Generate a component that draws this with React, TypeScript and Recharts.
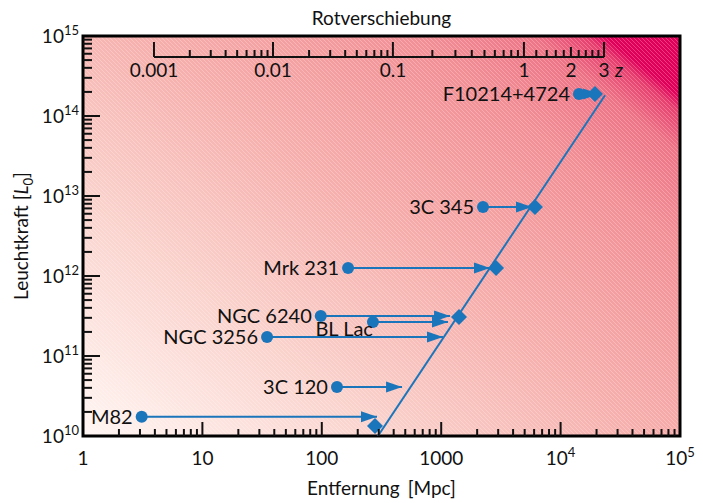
import React from 'react';
import {
	ComposedChart,
	Label,
	Line,
	ReferenceArea,
	ReferenceLine,
	XAxis,
	YAxis,
} from 'recharts';

const FONT = 'Lato, "Noto Sans", sans-serif';
const INK = '#111';
const BLUE = '#1b75bb';

// Objekte: beobachtete Entfernung -> Ende des Pfeils, Leuchtkraft
const names = ['M82', '3C 120', 'NGC 3256', 'BL Lac', 'NGC 6240', 'Mrk 231', '3C 345', 'F10214+4724'];
const distObs = [3.1, 134, 34.8, 268, 98, 166, 2240, 14260];
const distEnd = [290, 470, 1035, 1140, 1186, 2564, 5760, 21000];
const lum = [1.74e10, 4.1e10, 1.73e11, 2.66e11, 3.16e11, 1.26e12, 7.3e12, 1.88e14];

// Rauten auf der Grenzlinie
const diamondDist = [279, 1410, 2880, 6100, 19400];
const diamondLum = [1.33e10, 3.07e11, 1.26e12, 7.3e12, 1.88e14];

// Grenzlinie
const limitDist = [295, 23550];
const limitLum = [1e10, 1.82e14];

// Achsen
const xDecades = [1, 10, 100, 1000, 1e4, 1e5];
const xLabels = ['1', '10', '100', '1000', '10^4', '10^5'];
const yDecades = [1e10, 1e11, 1e12, 1e13, 1e14, 1e15];

// Rotverschiebung: Hauptstriche und ihre Lage in Mpc
const zMajor = [0.001, 0.01, 0.1, 1, 2, 3];
const zMajorLabels = ['0.001', '0.01', '0.1', '1', '2', '3'];
const zMajorDist = [3.93, 39, 394, 4930, 12200, 23100];
const zMinor = [
	0.002, 0.003, 0.004, 0.005, 0.006, 0.007, 0.008, 0.009,
	0.02, 0.03, 0.04, 0.05, 0.06, 0.07, 0.08, 0.09,
	0.2, 0.3, 0.4, 0.5, 0.6, 0.7, 0.8, 0.9,
	1.2, 1.4, 1.6, 1.8, 2.2, 2.4, 2.6, 2.8,
];

const withMinor = (decades: number[]) => {
	const out: number[] = [];
	decades.forEach((d, i) => {
		out.push(d);
		if (i < decades.length - 1) for (let k = 2; k <= 9; k++) out.push(d * k);
	});
	return out;
};

const zToDist = (z: number) => {
	let i = 0;
	while (i < zMajor.length - 2 && z > zMajor[i + 1]) i++;
	const t = (Math.log10(z) - Math.log10(zMajor[i])) / (Math.log10(zMajor[i + 1]) - Math.log10(zMajor[i]));
	const ld = Math.log10(zMajorDist[i]) + t * (Math.log10(zMajorDist[i + 1]) - Math.log10(zMajorDist[i]));
	return 10 ** ld;
};

const zTicks = [
	...zMajor.map((z, i) => ({ d: zMajorDist[i], label: zMajorLabels[i], major: z !== 2, z })),
	...zMinor.map((z) => ({ d: zToDist(z), label: '', major: false, z })),
];
const zTickDist = zTicks.map((t) => t.d);

const xTicks = withMinor(xDecades);
const yTicks = withMinor(yDecades);

const isDecade = (v: number) => {
	const lg = Math.log10(v);
	return Math.abs(lg - Math.round(lg)) < 1e-6;
};

const powerText = (label: string, x: number, y: number, anchor: 'middle' | 'end') => {
	const [base, exp] = label.split('^');
	return (
		<text x={x} y={y} textAnchor={anchor} fontFamily={FONT} fontSize={19} fill={INK}>
			{base}
			{exp && (
				<tspan dy={-8} fontSize={13}>
					{exp}
				</tspan>
			)}
		</text>
	);
};

const XTick = (props: any) => {
	const { x, y, payload } = props;
	const v = payload.value;
	const major = isDecade(v);
	const edge = v <= 1 || v >= 1e5;
	const idx = xDecades.findIndex((d) => Math.abs(d - v) / d < 1e-6);
	return (
		<g>
			{!edge && <line x1={x} x2={x} y1={y} y2={y - (major ? 14 : 7)} stroke={INK} strokeWidth={2} />}
			{major && idx >= 0 && powerText(xLabels[idx], x, y + 29, 'middle')}
		</g>
	);
};

const YTick = (props: any) => {
	const { x, y, payload } = props;
	const v = payload.value;
	const major = isDecade(v);
	const edge = v <= 1e10 || v >= 1e15;
	const exp = Math.round(Math.log10(v));
	return (
		<g>
			{!edge && <line x1={x} x2={x + (major ? 17 : 9)} y1={y} y2={y} stroke={INK} strokeWidth={2} />}
			{major && powerText(`10^${exp}`, x - 4, y + 7, 'end')}
		</g>
	);
};

const ZTick = (props: any) => {
	const { x, y, index } = props;
	const t = zTicks[index];
	if (!t) return <g />;
	const base = y + 21;
	const len = t.major ? 15 : t.z === 2 ? 10 : 7;
	return (
		<g>
			<line x1={x} x2={x} y1={base} y2={base - len} stroke={INK} strokeWidth={2} />
			{t.label && (
				<text x={x} y={base + 20} textAnchor="middle" fontFamily={FONT} fontSize={19} fill={INK}>
					{t.label}
				</text>
			)}
			{t.z === 3 && (
				<text x={x + 11} y={base + 20} fontFamily={FONT} fontSize={19} fontStyle="italic" fill={INK}>
					z
				</text>
			)}
		</g>
	);
};

const arrowDot = (name: string) => (p: any) => {
	const { cx, cy, index } = p;
	if (index === 0) {
		const below = name === 'BL Lac';
		return (
			<g key={`${name}-start`}>
				<circle cx={cx} cy={cy} r={6} fill={BLUE} />
				<text
					x={below ? cx : cx - 9}
					y={below ? cy + 14 : cy + 7}
					textAnchor="end"
					fontFamily={FONT}
					fontSize={20}
					fill={INK}
				>
					{name}
				</text>
			</g>
		);
	}
	return (
		<path
			key={`${name}-end`}
			d={`M${cx},${cy} L${cx - 16},${cy - 5.5} L${cx - 16},${cy + 5.5} Z`}
			fill={BLUE}
		/>
	);
};

const diamondDot = (p: any) => {
	const { cx, cy, index } = p;
	return (
		<path
			key={`dia-${index}`}
			d={`M${cx},${cy - 8} L${cx + 8},${cy} L${cx},${cy + 8} L${cx - 8},${cy} Z`}
			fill={BLUE}
		/>
	);
};

const arrows = names.map((name, i) => ({
	name,
	data: [
		{ d: distObs[i], L: lum[i] },
		{ d: distEnd[i], L: lum[i] },
	],
}));
const diamonds = diamondDist.map((d, i) => ({ d, L: diamondLum[i] }));
const limit = limitDist.map((d, i) => ({ d, L: limitLum[i] }));

// Höhe der z-Achse innerhalb des Diagramms
const zAxisLum = 10 ** (15 - 21 / 80);

export default function App() {
	return (
		<div style={{ position: 'absolute', left: 0, top: 0, background: '#fff' }}>
			<ComposedChart width={703} height={503} margin={{ top: 35, right: 23, bottom: 7, left: 23 }}>
				<defs>
					<linearGradient id="bg" x1="0" y1="1" x2="1" y2="0.15">
						<stop offset="0" stopColor="#fff6f3" />
						<stop offset="0.3" stopColor="#fad2cc" />
						<stop offset="0.55" stopColor="#f6afac" />
						<stop offset="0.82" stopColor="#f18f95" />
						<stop offset="0.93" stopColor="#ed7486" />
						<stop offset="0.98" stopColor="#e73f6f" />
						<stop offset="1" stopColor="#e0005a" />
					</linearGradient>
					<pattern id="hatch" width="4" height="4" patternUnits="userSpaceOnUse">
						<path d="M0,0 L4,4 M-1,3 L1,5 M3,-1 L5,1" stroke="#fff" strokeOpacity={0.3} strokeWidth={0.8} />
					</pattern>
				</defs>
				<ReferenceArea xAxisId="d" x1={1} x2={1e5} y1={1e10} y2={1e15} fill="url(#bg)" fillOpacity={1} stroke="none" />
				<ReferenceArea xAxisId="d" x1={1} x2={1e5} y1={1e10} y2={1e15} fill="url(#hatch)" fillOpacity={1} stroke="none" />
				<XAxis
					xAxisId="d"
					dataKey="d"
					type="number"
					scale="log"
					domain={[1, 1e5]}
					allowDataOverflow
					ticks={xTicks}
					interval={0}
					tickSize={0}
					tickMargin={0}
					axisLine={false}
					tick={<XTick />}
					height={60}
				>
					<Label
						content={(p: any) => (
							<text
								x={p.viewBox.x + p.viewBox.width / 2}
								y={p.viewBox.y + 59}
								textAnchor="middle"
								fontFamily={FONT}
								fontSize={19}
								fill={INK}
							>
								Entfernung
								<tspan dx={8}>[Mpc]</tspan>
							</text>
						)}
					/>
				</XAxis>
				<XAxis
					xAxisId="z"
					dataKey="d"
					type="number"
					scale="log"
					orientation="top"
					domain={[1, 1e5]}
					allowDataOverflow
					ticks={zTickDist}
					interval={0}
					tickSize={0}
					tickMargin={0}
					axisLine={false}
					tick={<ZTick />}
					height={1}
				>
					<Label
						content={(p: any) => (
							<text
								x={p.viewBox.x + p.viewBox.width / 2}
								y={25}
								textAnchor="middle"
								fontFamily={FONT}
								fontSize={19}
								fill={INK}
							>
								Rotverschiebung
							</text>
						)}
					/>
				</XAxis>
				<YAxis
					dataKey="L"
					type="number"
					scale="log"
					domain={[1e10, 1e15]}
					allowDataOverflow
					ticks={yTicks}
					interval={0}
					tickSize={0}
					tickMargin={0}
					axisLine={false}
					tick={<YTick />}
					width={60}
				>
					<Label
						content={() => (
							<text
								x={28}
								y={236}
								transform="rotate(-90, 28, 236)"
								textAnchor="middle"
								fontFamily={FONT}
								fontSize={19}
								fill={INK}
							>
								Leuchtkraft [<tspan fontStyle="italic">L</tspan>
								<tspan dy={5} fontSize={13}>0</tspan>
								<tspan dy={-5}>]</tspan>
							</text>
						)}
					/>
				</YAxis>
				<ReferenceLine
					xAxisId="z"
					segment={[
						{ x: zMajorDist[0], y: zAxisLum },
						{ x: zMajorDist[zMajorDist.length - 1], y: zAxisLum },
					]}
					stroke={INK}
					strokeWidth={2}
				/>
				<Line
					xAxisId="d"
					data={limit}
					dataKey="L"
					type="linear"
					stroke={BLUE}
					strokeWidth={2}
					dot={false}
					activeDot={false}
					isAnimationActive={false}
				/>
				{arrows.map((a) => (
					<Line
						key={a.name}
						xAxisId="d"
						data={a.data}
						dataKey="L"
						type="linear"
						stroke={BLUE}
						strokeWidth={2}
						dot={arrowDot(a.name)}
						activeDot={false}
						isAnimationActive={false}
					/>
				))}
				<Line
					xAxisId="d"
					data={diamonds}
					dataKey="L"
					type="linear"
					stroke="none"
					dot={diamondDot}
					activeDot={false}
					isAnimationActive={false}
				/>
				<ReferenceArea
					xAxisId="d"
					x1={1}
					x2={1e5}
					y1={1e10}
					y2={1e15}
					fill="none"
					stroke="#000"
					strokeWidth={3}
				/>
			</ComposedChart>
		</div>
	);
}
